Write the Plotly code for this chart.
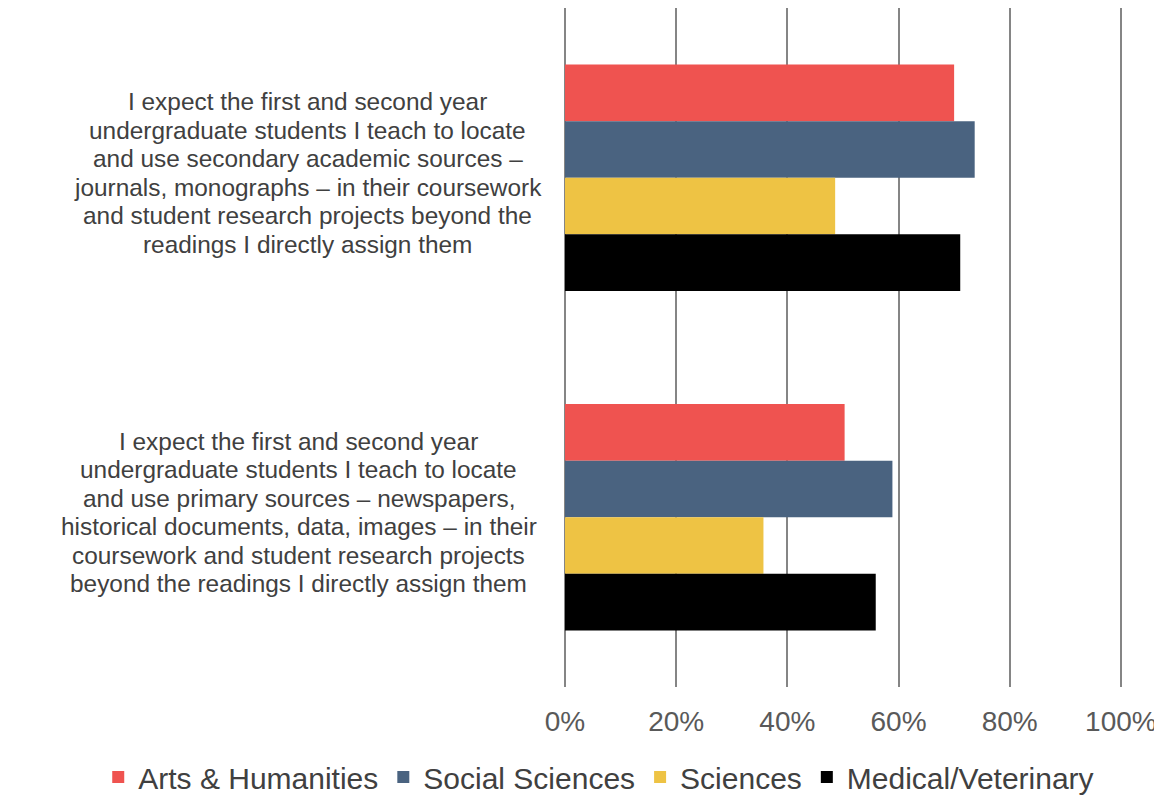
import plotly.graph_objects as go

# ── Data ─────────────────────────────────────────────
categories = [
    "I expect the first and second year<br>undergraduate students I teach to locate<br>"
    "and use secondary academic sources –<br>journals, monographs – in their coursework<br>"
    "and student research projects beyond the<br>readings I directly assign them",
    "I expect the first and second year<br>undergraduate students I teach to locate<br>"
    "and use primary sources – newspapers,<br>historical documents, data, images – in their<br>"
    "coursework and student research projects<br>beyond the readings I directly assign them",
]
series_names = ["Arts & Humanities", "Social Sciences", "Sciences", "Medical/Veterinary"]
arts = [0.700, 0.503]
social = [0.737, 0.589]
sciences = [0.486, 0.357]
medical = [0.711, 0.559]
x_ticks = [0, 0.2, 0.4, 0.6, 0.8, 1.0]

# ── Style ────────────────────────────────────────────
COLORS = ["#EF5350", "#4A6380", "#EEC344", "#000000"]
FONT = "Liberation Sans, Arial, sans-serif"
TEXT_DARK = "#404040"
TEXT_MID = "#595959"
GRID = "#858585"
LABEL_CENTRES = [-0.462, -0.478]   # paper x of each label block's centre
LINE_H = 28.5                       # label line pitch, px

fig = go.Figure()
for name, vals, col in zip(series_names, [arts, social, sciences, medical], COLORS):
    fig.add_trace(go.Bar(
        y=categories, x=vals, name=name, orientation="h",
        marker=dict(color=col, line=dict(width=0)),
    ))

# category labels: one centred annotation per line so the line pitch is tight
for cat, cx in zip(categories, LABEL_CENTRES):
    lines = cat.split("<br>")
    n = len(lines)
    for i, line in enumerate(lines):
        fig.add_annotation(
            x=cx, xref="paper", xanchor="center",
            y=cat, yref="y", yanchor="middle",
            yshift=5 + ((n - 1) / 2 - i) * LINE_H,
            text=line, showarrow=False,
            font=dict(family=FONT, size=24.4, color=TEXT_DARK),
        )

# page body has an 8px margin, so the figure is sized/offset to compensate
fig.update_layout(
    width=1154, height=795,
    margin=dict(l=557, r=40, t=0, b=115),
    paper_bgcolor="white", plot_bgcolor="white",
    barmode="group", bargap=0.333, bargroupgap=0,
    font=dict(family=FONT, color=TEXT_MID),
    showlegend=True,
    # anchored left of the plot area so the single row may span the left margin
    legend=dict(
        orientation="h", xref="paper", yref="paper",
        x=-0.838, xanchor="left", y=-0.132, yanchor="middle",
        font=dict(family=FONT, size=30, color=TEXT_DARK),
        tracegroupgap=0,
    ),
    xaxis=dict(
        range=[0, 1.002], tickvals=x_ticks, tickformat=".0%",
        showgrid=True, gridcolor=GRID, gridwidth=2,
        zeroline=True, zerolinecolor=GRID, zerolinewidth=2,
        showline=False, ticks="", ticklabelstandoff=15,
        tickfont=dict(family=FONT, size=28, color=TEXT_MID),
    ),
    yaxis=dict(
        autorange="reversed", showticklabels=False,
        showgrid=False, zeroline=False, showline=False, ticks="",
    ),
)

fig.write_html("out.html")
